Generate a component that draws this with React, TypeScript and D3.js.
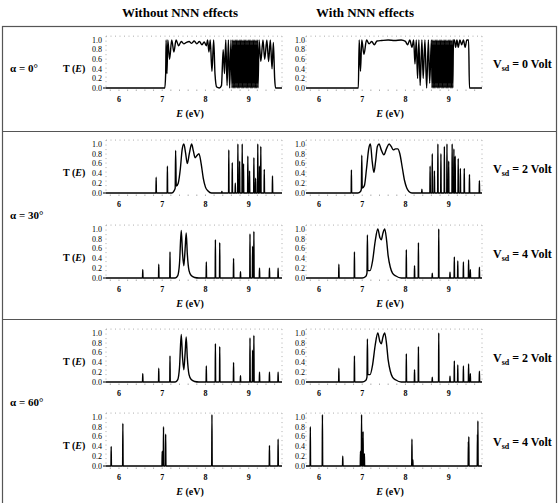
import React from 'react';
import * as d3 from 'd3';

type Pt = [number, number];

const W = 558;
const H = 503;
const eDomain: Pt = [5.7, 9.77];
const eTicks = [6, 7, 8, 9];
const tTicks = [0, 0.2, 0.4, 0.6, 0.8, 1.0];
const colTitles = ['Without NNN effects', 'With NNN effects'];
const alphaLabels = ['α = 0°', 'α = 30°', 'α = 60°'];

// alpha = 0, Vsd = 0, without NNN
const a0v0LeftBand: Pt[] = [
  [7.06, 0], [7.08, 0.3], [7.09, 1.0], [7.11, 0.3], [7.13, 1.0], [7.17, 0.6], [7.22, 1.0],
  [7.27, 0.75], [7.32, 1.0], [7.38, 0.88], [7.44, 0.97], [7.5, 0.92], [7.56, 0.95], [7.62, 0.97],
  [7.68, 0.93], [7.74, 0.98], [7.8, 0.92], [7.86, 0.97], [7.92, 0.9], [7.97, 0.96], [8.02, 0.88],
  [8.05, 1.0], [8.08, 0.75], [8.11, 1.0], [8.15, 0.35], [8.19, 1.0], [8.22, 0.3], [8.26, 0.02],
  [8.32, 0], [8.37, 0.05], [8.41, 0.8], [8.44, 0.3], [8.47, 1.0], [8.5, 0.05], [8.53, 1.0],
  [8.56, 0], [8.59, 1.0], [8.615, 0],
  [8.63, 1], [8.645, 0], [8.66, 1], [8.675, 0], [8.69, 1], [8.705, 0], [8.72, 1], [8.735, 0],
  [8.75, 1], [8.765, 0], [8.78, 1], [8.795, 0], [8.81, 1], [8.825, 0], [8.84, 1], [8.855, 0],
  [8.87, 1], [8.885, 0], [8.9, 1], [8.915, 0], [8.93, 1], [8.945, 0], [8.96, 1], [8.975, 0],
  [8.99, 1], [9.005, 0], [9.02, 1], [9.035, 0], [9.05, 1], [9.065, 0], [9.08, 1], [9.095, 0],
  [9.11, 1], [9.125, 0], [9.14, 1], [9.155, 0], [9.17, 1], [9.185, 0], [9.2, 1], [9.215, 0],
  [9.24, 1], [9.28, 0.55], [9.33, 1], [9.37, 0.6], [9.42, 1], [9.46, 0.55], [9.5, 1],
  [9.54, 0.4], [9.57, 0.95], [9.6, 0.2], [9.62, 0],
];

// alpha = 0, Vsd = 0, with NNN
const a0v0RightBand: Pt[] = [
  [6.91, 0], [6.93, 1.0], [6.96, 0.35], [6.99, 1.0], [7.04, 0.7], [7.1, 1.0], [7.16, 0.92],
  [7.22, 0.97], [7.28, 0.9], [7.34, 0.98], [7.45, 0.99], [7.6, 1.0], [7.75, 0.99], [7.9, 1.0],
  [8.0, 0.97], [8.05, 0.9], [8.1, 1.0], [8.15, 0.85], [8.19, 1.0], [8.22, 0.5], [8.25, 1.0],
  [8.28, 0.2], [8.31, 1.0], [8.34, 0.05], [8.38, 1.0], [8.41, 0.2], [8.45, 1.0], [8.49, 0],
  [8.53, 1.0], [8.56, 0.1], [8.6, 1.0], [8.615, 0],
  [8.63, 1], [8.645, 0], [8.66, 1], [8.675, 0], [8.69, 1], [8.705, 0], [8.72, 1], [8.735, 0],
  [8.75, 1], [8.765, 0], [8.78, 1], [8.795, 0], [8.81, 1], [8.825, 0], [8.84, 1], [8.855, 0],
  [8.87, 1], [8.885, 0], [8.9, 1], [8.915, 0], [8.93, 1], [8.945, 0], [8.96, 1], [8.975, 0],
  [8.99, 1], [9.005, 0], [9.02, 1], [9.035, 0], [9.05, 1], [9.065, 0], [9.08, 1], [9.095, 0],
  [9.11, 1], [9.13, 1], [9.16, 0.85], [9.19, 1], [9.22, 0.85], [9.26, 1], [9.3, 0.9],
  [9.34, 1], [9.38, 0.85], [9.42, 1], [9.46, 1], [9.48, 0],
];

// alpha = 30, Vsd = 2
const a30v2LeftPeaks: Pt[] = [
  [6.86, 0.32], [7.12, 0.55], [8.38, 0.03], [8.54, 0.88], [8.62, 0.62], [8.69, 0.2], [8.75, 1.0],
  [8.79, 0.65], [8.85, 1.0], [8.88, 0.6], [8.98, 0.75], [9.02, 0.45], [9.12, 0.72], [9.16, 0.3],
  [9.21, 1.0], [9.25, 0.55], [9.28, 0.95], [9.36, 0.48], [9.55, 0.35],
];
const a30v2LeftBand: Pt[] = [
  [7.22, 0], [7.27, 0.04], [7.3, 0.1], [7.31, 0.87], [7.325, 0.14], [7.37, 0.2], [7.42, 0.5],
  [7.46, 0.88], [7.5, 1.0], [7.54, 0.82], [7.58, 0.6], [7.63, 0.82], [7.68, 1.0], [7.72, 0.86],
  [7.76, 0.72], [7.8, 0.76], [7.85, 0.8], [7.9, 0.6], [7.95, 0.3], [8.0, 0.12], [8.06, 0.04],
  [8.14, 0],
];
const a30v2RightPeaks: Pt[] = [
  [6.75, 0.47], [8.38, 0.08], [8.57, 0.55], [8.62, 0.8], [8.67, 0.45], [8.75, 1.0], [8.82, 0.8],
  [8.9, 0.95], [8.96, 1.0], [9.0, 0.65], [9.08, 1.0], [9.12, 0.9], [9.15, 0.75], [9.22, 0.7],
  [9.27, 0.5], [9.36, 0.5], [9.48, 0.38], [9.71, 0.25],
];
const a30v2RightBand: Pt[] = [
  [6.9, 0], [6.96, 0.03], [6.98, 0.08], [6.99, 0.77], [7.0, 0.1], [7.05, 0.15], [7.1, 0.5],
  [7.15, 0.9], [7.19, 1.0], [7.23, 0.65], [7.27, 0.42], [7.31, 0.65], [7.35, 0.95], [7.39, 1.0],
  [7.44, 0.88], [7.5, 0.78], [7.56, 0.9], [7.62, 1.0], [7.67, 0.95], [7.72, 0.88], [7.77, 0.9],
  [7.82, 0.9], [7.87, 0.8], [7.93, 0.5], [7.98, 0.25], [8.03, 0.1], [8.08, 0.03], [8.15, 0],
];

// alpha = 30, Vsd = 4 (the alpha = 60, Vsd = 2 panels show the same curves)
const a30v4LeftPeaks: Pt[] = [
  [6.55, 0.17], [6.92, 0.28], [7.18, 0.53], [8.02, 0.33], [8.23, 0.78], [8.33, 0.72], [8.65, 0.4],
  [8.81, 0.13], [9.03, 0.9], [9.09, 0.65], [9.12, 0.95], [9.25, 0.2], [9.48, 0.2], [9.68, 0.2],
];
const a30v4LeftBand: Pt[] = [
  [7.3, 0], [7.36, 0.05], [7.4, 0.3], [7.44, 0.97], [7.47, 0.5], [7.5, 0.25], [7.53, 0.6],
  [7.555, 0.92], [7.58, 0.5], [7.62, 0.15], [7.67, 0.05], [7.75, 0.01], [7.85, 0],
];
const a30v4RightPeaks: Pt[] = [
  [6.46, 0.28], [6.82, 0.53], [8.02, 0.58], [8.21, 0.25], [8.3, 0.72], [8.62, 0.1], [8.77, 1.0],
  [9.03, 0.12], [9.13, 0.43], [9.21, 0.35], [9.34, 0.33], [9.46, 0.37], [9.5, 0.17], [9.71, 0.22],
];
const a30v4RightBand: Pt[] = [
  [7.0, 0], [7.08, 0.03], [7.11, 0.1], [7.12, 0.88], [7.13, 0.15], [7.18, 0.15], [7.24, 0.35],
  [7.3, 0.75], [7.36, 1.0], [7.41, 0.82], [7.44, 0.78], [7.48, 0.92], [7.52, 1.0], [7.56, 0.8],
  [7.6, 0.45], [7.65, 0.22], [7.7, 0.1], [7.78, 0.04], [7.9, 0],
];

// alpha = 60, Vsd = 4
const a60v4LeftPeaks: Pt[] = [
  [5.82, 0.4], [6.09, 0.87], [7.0, 0.3], [7.03, 0.8], [7.08, 0.65], [8.15, 1.05], [9.48, 0.42],
  [9.68, 0.55],
];
const a60v4RightPeaks: Pt[] = [
  [5.8, 0.8], [6.08, 1.05], [6.55, 0.2], [6.96, 0.3], [6.985, 1.05], [7.02, 0.7], [7.05, 0.25],
  [8.15, 0.55], [8.17, 0.13], [9.455, 0.5], [9.465, 0.6], [9.665, 0.65], [9.675, 0.92],
];

const FONT = '"Liberation Serif", "Times New Roman", serif';

function buildPoints(band: Pt[], peaks: Pt[]): Pt[] {
  const w = 0.006;
  const pts: Pt[] = [[eDomain[0], 0], [eDomain[1], 0], ...band];
  peaks.forEach(([e, t]) => {
    pts.push([e - w, 0], [e, t], [e + w, 0]);
  });
  return pts.sort((p, q) => p[0] - q[0]);
}

type PanelProps = {
  x0: number;
  y1: number;
  y0: number;
  band: Pt[];
  peaks: Pt[];
  left: boolean;
  xTitle: boolean;
};

const Panel = ({ x0, y1, y0, band, peaks, left, xTitle }: PanelProps) => {
  const x = d3.scaleLinear().domain(eDomain).range([x0, x0 + 176]);
  const y = d3.scaleLinear().domain([0, 1]).range([y0, y1]);
  const top = y(1.08);
  const line = d3.line<Pt>()
    .x(d => x(d[0]))
    .y(d => y(Math.min(d[1], 1.08)))
    .curve(d3.curveMonotoneX);
  const minor = d3.range(5.8, 9.75, 0.2);
  const labelX = left ? x0 - 4 : x0 - 1;
  return (
    <g>
      {/* dotted frame */}
      <g stroke="#999" strokeWidth={0.8} strokeDasharray="1,3.5" fill="none">
        <line x1={x0} x2={x0 + 176} y1={top} y2={top} />
        <line x1={x0 + 176} x2={x0 + 176} y1={top} y2={y0} />
        <line x1={x0} x2={x0} y1={top} y2={y0} />
      </g>
      {minor.map(m => (
        <line key={m} x1={x(m)} x2={x(m)} y1={y0 + 1.5} y2={y0 + 3} stroke="#999" strokeWidth={0.8} />
      ))}
      {tTicks.map(t => (
        <text key={t} x={labelX} y={y(t) + 2.8} fontSize={8} textAnchor="end" fontFamily={FONT} fill="#000">
          {t.toFixed(1)}
        </text>
      ))}
      {left && <line x1={x0 - 3} x2={x0} y1={y0} y2={y0} stroke="#000" strokeWidth={1} />}
      {eTicks.map(t => (
        <text key={t} x={x(t)} y={y0 + 14} fontSize={8} fontWeight="bold" textAnchor="middle" fontFamily={FONT} fill="#000">
          {t}
        </text>
      ))}
      <path d={line(buildPoints(band, peaks)) || ''} fill="none" stroke="#000" strokeWidth={1.4} />
      {left && (
        <text x={63} y={y(0.4) + 3} fontSize={10} fontWeight="bold" fontFamily={FONT}>
          T (<tspan fontStyle="italic">E</tspan>)
        </text>
      )}
      {xTitle && (
        <text x={x0 + 84} y={y0 + 29} fontSize={10} fontWeight="bold" textAnchor="middle" fontFamily={FONT}>
          <tspan fontStyle="italic">E</tspan> (eV)
        </text>
      )}
    </g>
  );
};

const VsdLabel = ({ y, v }: { y: number; v: number }) => (
  <text x={493} y={y + 4} fontSize={12} fontWeight="bold" fontFamily={FONT}>
    V<tspan dy={3} fontSize={8}>sd</tspan><tspan dy={-3}> = {v} Volt</tspan>
  </text>
);

const rows = [
  { y1: 40, y0: 88, lb: a0v0LeftBand, lp: [] as Pt[], rb: a0v0RightBand, rp: [] as Pt[], xt: true, v: 0 },
  { y1: 144, y0: 193, lb: a30v2LeftBand, lp: a30v2LeftPeaks, rb: a30v2RightBand, rp: a30v2RightPeaks, xt: false, v: 2 },
  { y1: 229, y0: 278, lb: a30v4LeftBand, lp: a30v4LeftPeaks, rb: a30v4RightBand, rp: a30v4RightPeaks, xt: true, v: 4 },
  { y1: 333, y0: 382, lb: a30v4LeftBand, lp: a30v4LeftPeaks, rb: a30v4RightBand, rp: a30v4RightPeaks, xt: false, v: 2 },
  { y1: 417, y0: 466, lb: [] as Pt[], lp: a60v4LeftPeaks, rb: [] as Pt[], rp: a60v4RightPeaks, xt: true, v: 4 },
];

const alphaY = [68, 215, 402];

export default function App() {
  return (
    <svg width={W} height={H} style={{ position: 'absolute', left: 0, top: 0, background: '#fff' }}>
      <text x={180} y={17} fontSize={13} fontWeight="bold" textAnchor="middle" fontFamily={FONT}>{colTitles[0]}</text>
      <text x={365} y={17} fontSize={13} fontWeight="bold" textAnchor="middle" fontFamily={FONT}>{colTitles[1]}</text>
      <rect x={2.5} y={26.5} width={554} height={490} fill="none" stroke="#555" strokeWidth={1.2} />
      <line x1={2} x2={557} y1={131.5} y2={131.5} stroke="#555" strokeWidth={1.2} />
      <line x1={2} x2={557} y1={319.5} y2={319.5} stroke="#555" strokeWidth={1.2} />
      {alphaLabels.map((a, i) => (
        <text key={a} x={10} y={alphaY[i] + 4} fontSize={11} fontWeight="bold" fontFamily={FONT}>{a}</text>
      ))}
      {rows.map((r, i) => (
        <g key={i}>
          <Panel x0={106} y1={r.y1} y0={r.y0} band={r.lb} peaks={r.lp} left xTitle={r.xt} />
          <Panel x0={306} y1={r.y1} y0={r.y0} band={r.rb} peaks={r.rp} left={false} xTitle={r.xt} />
          <VsdLabel y={(r.y1 + r.y0) / 2} v={r.v} />
        </g>
      ))}
    </svg>
  );
}
